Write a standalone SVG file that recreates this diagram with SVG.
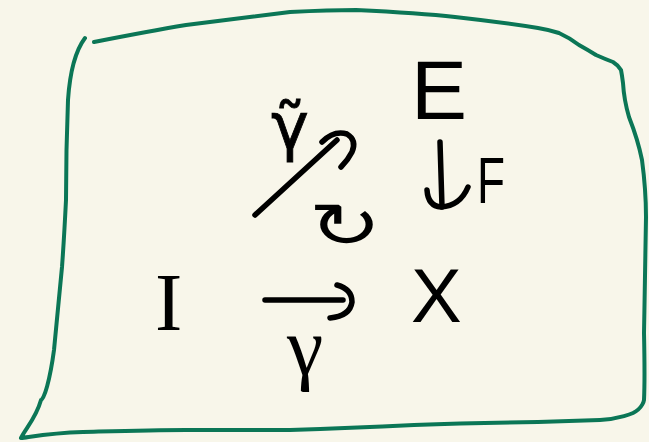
<svg xmlns="http://www.w3.org/2000/svg" width="649" height="442" viewBox="0 0 649 442">
  <style>
    .frame { fill: none; stroke: #0b7656; stroke-width: 4; stroke-linecap: round; stroke-linejoin: round; }
    .ink { fill: none; stroke: #000; stroke-width: 5.5; stroke-linecap: round; stroke-linejoin: round; }
    .t { fill: #000; font-family: "Liberation Sans", "DejaVu Sans", sans-serif; }
    .ts { fill: #000; font-family: "Liberation Serif", "DejaVu Serif", serif; }
    .tg { fill: #000; stroke: #000; stroke-width: 0.8; font-family: "DejaVu Sans", "Noto Sans", sans-serif; }
  </style>
  <rect x="0" y="0" width="649" height="442" fill="#f8f6ea"/>
  <g id="frame">
    <path class="frame" d="M85,38 C76,50 70,70 68,100 C66,150 66,190 66,200 C64,240 62,267 62,267 C58,310 54,350 54,350 C50,380 44,400 41,400 C36,418 26,428 21,438 C30,437 50,433 83,432 C120,431 150,430 186,430 C240,430 290,430 290,430 C350,428 414,425 414,425 C470,423 538,422 538,422 C570,421 600,420 600,420 C620,419 633,413 633,413 C643,408 644,400 644,400 C645,380 644,333 644,333 C645,280 646,217 646,217 C646,190 642,160 642,160 C638,140 629,117 629,117 C624,100 623,83 623,83 C622,75 621,70 621,70 C618,65 613,62 613,62 C605,59 596,55 596,55 C588,50 579,45 579,45 C570,38 559,33 559,33 C550,30 538,28 538,28 C500,22 455,17 455,17 C420,13 356,10 356,10 C330,10 290,12 290,12 C250,17 186,25 186,25 C150,31 94,42 94,42"/>
  </g>
  <g id="connectors">
    <g id="edge-gamma-tilde">
      <path class="ink" d="M255,215 L337,140"/>
      <path class="ink" d="M322,142 Q334,130 347,134 Q357,140 352,152 Q348,160 341,167"/>
    </g>
    <g id="edge-F">
      <path class="ink" d="M440,142 L442,207"/>
      <path class="ink" d="M427,190 Q428,206 441,207 Q460,206 468,187"/>
    </g>
    <g id="edge-gamma">
      <path class="ink" d="M265,300 L343,300"/>
      <path class="ink" d="M337,285 Q352,289 352,302 Q350,316 330,318"/>
    </g>
  </g>
  <g id="node-E">
    <text class="t" x="411" y="119" font-size="84">E</text>
  </g>
  <g id="node-X">
    <text class="t" x="411" y="322" font-size="76">X</text>
  </g>
  <g id="node-I">
    <text class="ts" x="155" y="330" font-size="82">I</text>
  </g>
  <g id="label-F">
    <text class="t" x="477" y="203" font-size="64" textLength="28" lengthAdjust="spacingAndGlyphs">F</text>
  </g>
  <g id="label-gamma-tilde">
    <text class="tg" x="271" y="149" font-size="64">γ̃</text>
  </g>
  <g id="label-gamma">
    <text class="ts" x="287" y="374" font-size="82">γ</text>
  </g>
  <g id="label-cell">
    <text transform="translate(345,247) scale(1.4,1)" text-anchor="middle" font-size="62" fill="#000" font-family="'DejaVu Sans', 'Noto Sans', sans-serif">↻</text>
  </g>
</svg>
